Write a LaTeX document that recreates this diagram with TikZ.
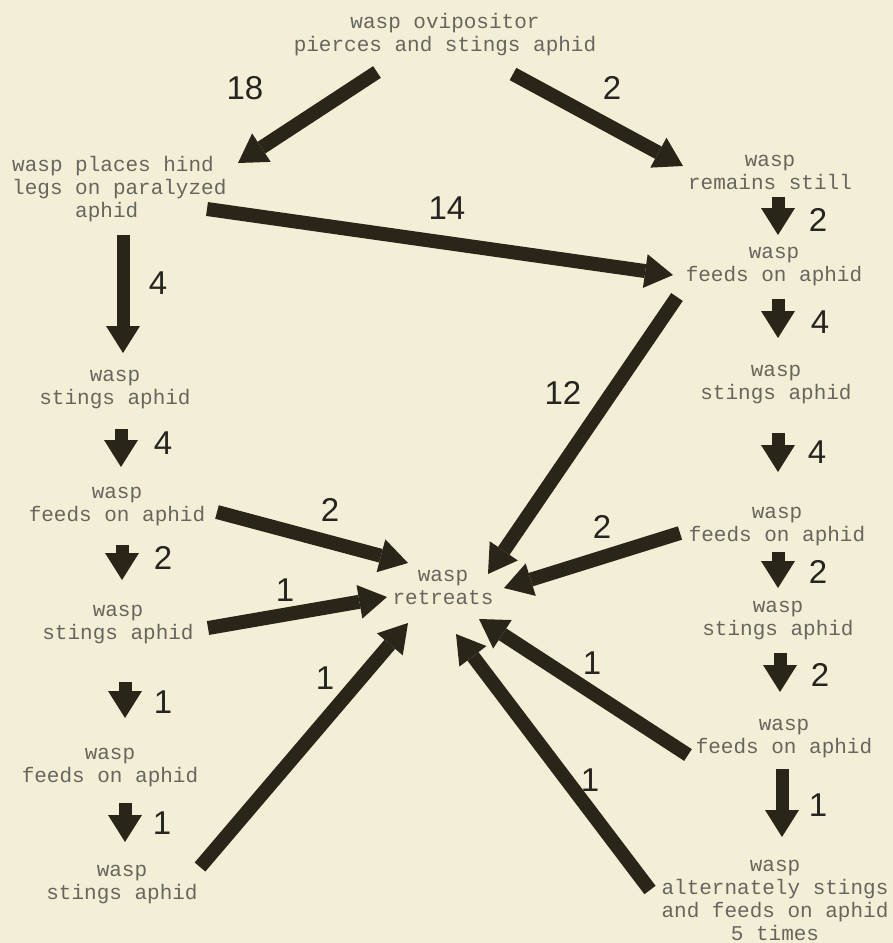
\documentclass[tikz,border=0pt]{standalone}
\usepackage{fontspec}
\newfontfamily\typew{Liberation Mono}
\newfontfamily\numf{Liberation Sans}
\usetikzlibrary{arrows.meta}
\definecolor{paper}{HTML}{F3EFD7}
\definecolor{ink}{HTML}{2A2519}
\definecolor{txtgray}{HTML}{66665E}
\definecolor{numcol}{HTML}{262420}
\begin{document}
\begin{tikzpicture}[x=1pt,y=-1pt,
  txt/.style={font=\typew\fontsize{21}{23}\selectfont, text=txtgray, inner sep=0pt, align=center, anchor=base},
  num/.style={font=\numf\fontsize{33}{36}\selectfont, text=numcol, inner sep=0pt, anchor=center},
  bigarrow/.style={draw=ink, line width=14pt, -{Triangle[width=34pt,length=28pt,line width=0pt]}},
  smallarrow/.style={draw=ink, line width=13pt, -{Triangle[width=34pt,length=27pt,line width=0pt]}}
]
\fill[paper] (0,0) rectangle (893,943);
\useasboundingbox (0,0) rectangle (893,943);

% text blocks (anchor = baseline of the last line)
\node[txt] (top) at (445,51.5) {wasp ovipositor\\pierces and stings aphid};
\node[txt, align=left, anchor=base west] (hind) at (12,217.5) {wasp places hind\\legs on paralyzed\\\phantom{legs~}aphid};
\node[txt] (r1) at (770,189.5) {wasp\\remains still};
\node[txt] (r2) at (774,281.5) {wasp\\feeds on aphid};
\node[txt] (r3) at (776,399.5) {wasp\\stings aphid};
\node[txt] (r4) at (777,541.5) {wasp\\feeds on aphid};
\node[txt] (r5) at (778,635.5) {wasp\\stings aphid};
\node[txt] (r6) at (784,753.5) {wasp\\feeds on aphid};
\node[txt] (r7) at (775,940) {wasp\\alternately stings\\and feeds on aphid\\5 times};
\node[txt] (l1) at (115,404.5) {wasp\\stings aphid};
\node[txt] (l2) at (117,521.5) {wasp\\feeds on aphid};
\node[txt] (l3) at (118,639.5) {wasp\\stings aphid};
\node[txt] (l4) at (110,782.5) {wasp\\feeds on aphid};
\node[txt] (l5) at (122,899.5) {wasp\\stings aphid};
\node[txt] (ret) at (443,604.5) {wasp\\retreats};

% arrow end points
\coordinate (a18s) at (377,72);  \coordinate (a18e) at (238,163);
\coordinate (a2ts) at (513,74);  \coordinate (a2te) at (683,166);
\coordinate (a14s) at (207,209); \coordinate (a14e) at (673,275);
\coordinate (a4s) at (123,235);  \coordinate (a4e) at (123,353);
\coordinate (a12s) at (677,297); \coordinate (a12e) at (488,574);
\coordinate (b2ls) at (217,512); \coordinate (b2le) at (408,563);
\coordinate (b1ls) at (208,628); \coordinate (b1le) at (387,597);
\coordinate (b1bs) at (200,867); \coordinate (b1be) at (408,623);
\coordinate (b2rs) at (680,533); \coordinate (b2re) at (504,588);
\coordinate (b1rs) at (688,755); \coordinate (b1re) at (479,619);
\coordinate (b1xs) at (650,890); \coordinate (b1xe) at (456,634);
\coordinate (s1s) at (121,429); \coordinate (s1e) at (121,467);
\coordinate (s2s) at (122,545); \coordinate (s2e) at (122,580);
\coordinate (s3s) at (125,682); \coordinate (s3e) at (125,718);
\coordinate (s4s) at (125,803); \coordinate (s4e) at (125,842);
\coordinate (t1s) at (778,197); \coordinate (t1e) at (778,235);
\coordinate (t2s) at (778,299); \coordinate (t2e) at (778,338);
\coordinate (t3s) at (778,433); \coordinate (t3e) at (778,472);
\coordinate (t4s) at (778,552); \coordinate (t4e) at (778,588);
\coordinate (t5s) at (780,653); \coordinate (t5e) at (780,692);
\coordinate (t6s) at (782,769); \coordinate (t6e) at (782,837);

% big arrows
\draw[bigarrow] (a18s) -- (a18e);
\draw[bigarrow] (a2ts) -- (a2te);
\draw[bigarrow] (a14s) -- (a14e);
\draw[smallarrow] (a4s) -- (a4e);
\draw[bigarrow] (a12s) -- (a12e);
\draw[bigarrow] (b2ls) -- (b2le);
\draw[bigarrow] (b1ls) -- (b1le);
\draw[bigarrow] (b1bs) -- (b1be);
\draw[bigarrow] (b2rs) -- (b2re);
\draw[bigarrow] (b1rs) -- (b1re);
\draw[bigarrow] (b1xs) -- (b1xe);
% small arrows
\foreach \p in {s1,s2,s3,s4,t1,t2,t3,t4,t5,t6}{\draw[smallarrow] (\p s) -- (\p e);}

% numbers
\node[num] (n18) at (245,88) {18};
\node[num] (n2t) at (612,88) {2};
\node[num] (n14) at (447,208) {14};
\node[num] (n4) at (158,283) {4};
\node[num] (n12) at (563,393) {12};
\node[num] (nb2l) at (330,510) {2};
\node[num] (nb1l) at (285,590) {1};
\node[num] (nb1b) at (325,678) {1};
\node[num] (nb2r) at (602,527) {2};
\node[num] (nb1r) at (592,663) {1};
\node[num] (nb1x) at (590,780) {1};
\node[num] (ns1) at (163,443) {4};
\node[num] (ns2) at (163,558) {2};
\node[num] (ns3) at (163,702) {1};
\node[num] (ns4) at (162,823) {1};
\node[num] (nt1) at (818,220) {2};
\node[num] (nt2) at (820,322) {4};
\node[num] (nt3) at (817,452) {4};
\node[num] (nt4) at (818,572) {2};
\node[num] (nt5) at (820,675) {2};
\node[num] (nt6) at (818,805) {1};
\end{tikzpicture}
\end{document}
